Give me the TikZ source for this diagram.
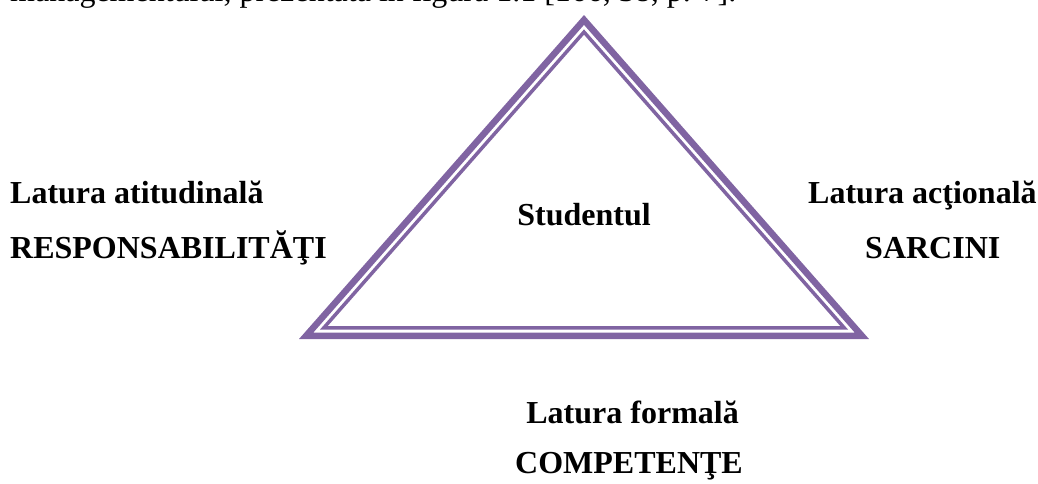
\documentclass[tikz,border=0pt]{standalone}
\usepackage{fontspec}
\setmainfont{Liberation Serif}
\usetikzlibrary{calc}
\definecolor{tripurple}{HTML}{8064A2}
\begin{document}
\begin{tikzpicture}[x=1pt,y=-1pt,
  lbl/.style={inner sep=0pt, font=\fontsize{32}{38}\selectfont\bfseries},
  bodytext/.style={inner sep=0pt, font=\fontsize{32}{38}\selectfont}]
\useasboundingbox (0,0) rectangle (1038,483);

% preceding line of body text, cut by the page edge
\begin{scope}
  \clip (0,0) rectangle (1038,483);
  \node[bodytext, anchor=base west] (intro) at (10,1)
    {managementului, prezentată în figura 1.1 [166, 38, p. 7].};
\end{scope}

% triangle corners and incentre
\coordinate (A) at (299,339);
\coordinate (B) at (869,339);
\coordinate (C) at (584,15);
\coordinate (I) at (584,210.1);
% uniform insets: thick band, white gap, thin line
\foreach \nm/\f in {a/0.9496, b/0.9263, c/0.8991}{
  \coordinate (A\nm) at ($(I)!\f!(A)$);
  \coordinate (B\nm) at ($(I)!\f!(B)$);
  \coordinate (C\nm) at ($(I)!\f!(C)$);
}
\fill[tripurple, even odd rule]
  (A) -- (B) -- (C) -- cycle (Aa) -- (Ba) -- (Ca) -- cycle;
\fill[tripurple, even odd rule]
  (Ab) -- (Bb) -- (Cb) -- cycle (Ac) -- (Bc) -- (Cc) -- cycle;

% labels
\node[lbl, anchor=base] (student) at (584,225) {Studentul};
\node[lbl, anchor=base west] (attl) at (10,203) {Latura atitudinală};
\node[lbl, anchor=base west] (attr) at (10,258) {RESPONSABILITĂŢI};
\node[lbl, anchor=base west] (actl) at (808,203) {Latura acţională};
\node[lbl, anchor=base west] (actr) at (865,258) {SARCINI};
\node[lbl, anchor=base east] (forml) at (739,423) {Latura formală};
\node[lbl, anchor=base east] (formr) at (743,473) {COMPETENŢE};
\end{tikzpicture}
\end{document}
